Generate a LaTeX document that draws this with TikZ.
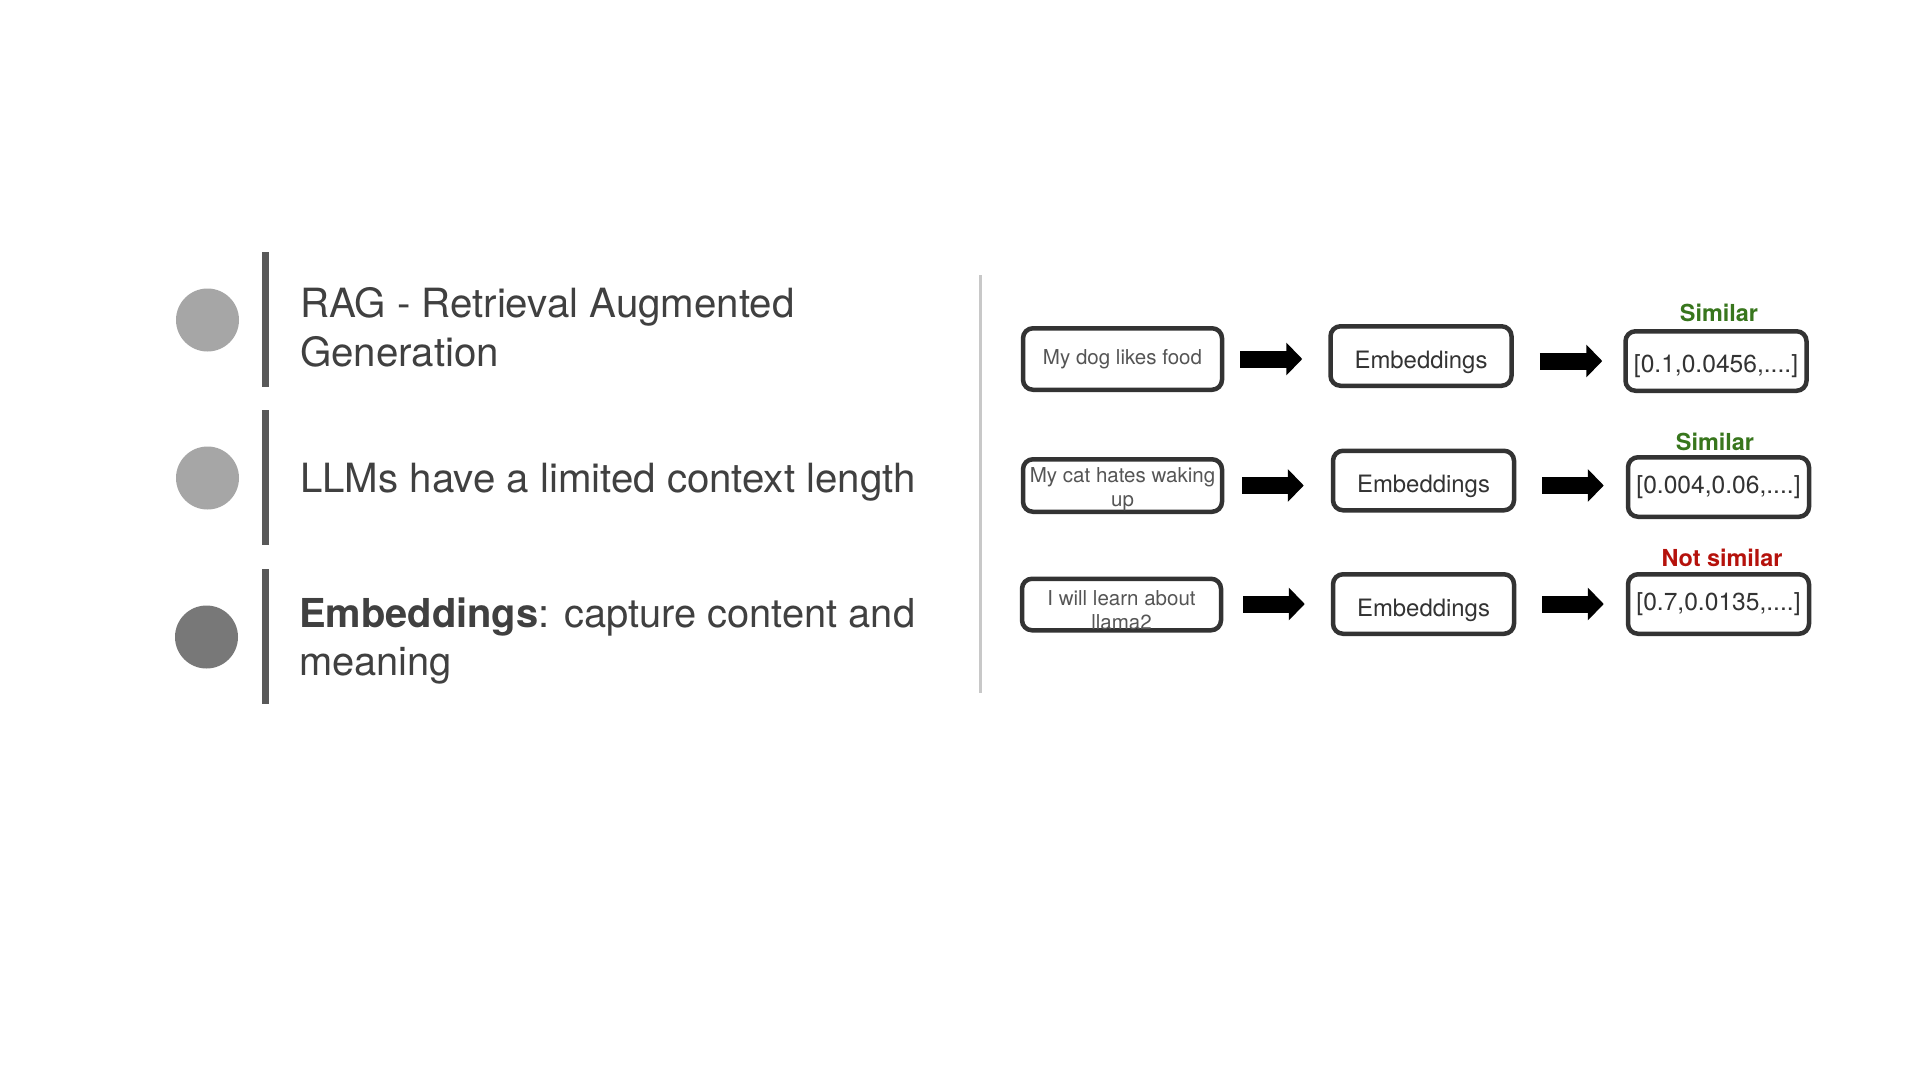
\documentclass[tikz,border=0pt]{standalone}
\usepackage{fontspec}
\setmainfont{TeX Gyre Heros}
\usetikzlibrary{arrows.meta}
\definecolor{txtgray}{HTML}{404040}
\definecolor{bargray}{HTML}{595959}
\definecolor{lightdot}{HTML}{A6A6A6}
\definecolor{darkdot}{HTML}{787878}
\definecolor{sepgray}{HTML}{C8C8C8}
\definecolor{boxgray}{HTML}{333333}
\definecolor{srcgray}{HTML}{555555}
\definecolor{embtext}{HTML}{333333}
\definecolor{simgreen}{HTML}{38761D}
\definecolor{notred}{HTML}{B5120C}
\tikzset{
  bullet/.style={circle, minimum size=63bp, inner sep=0pt},
  bar/.style={line width=7bp, draw=bargray},
  sepline/.style={line width=3bp, draw=sepgray},
  lefttext/.style={font=\fontsize{40.4}{49}\selectfont, text=txtgray, inner sep=0pt, align=left},
  boxbase/.style={draw=boxgray, line width=4.5bp, rounded corners=10bp},
  srcbox/.style={boxbase, minimum width=199bp, inner xsep=2bp, inner ysep=0pt, align=center,
    font=\fontsize{20.6}{24.5}\selectfont, text=srcgray},
  embbox/.style={boxbase, minimum width=181bp, minimum height=59.5bp,
    text height=24bp, text depth=0bp,
    font=\fontsize{24}{28}\selectfont, text=embtext},
  vecbox/.style={boxbase, minimum width=181bp, minimum height=59.5bp,
    font=\fontsize{24.7}{28}\selectfont, text=embtext},
  simlab/.style={font=\fontsize{23.5}{28}\selectfont\bfseries, text=simgreen, inner sep=0pt},
  notlab/.style={font=\fontsize{23.5}{28}\selectfont\bfseries, text=notred, inner sep=0pt},
  blockarrow/.style={line width=17bp, draw=black, -{Triangle[length=16bp 0 0, width=32bp 0 0]}}
}
\begin{document}
\begin{tikzpicture}[x=1bp,y=-1bp]
\path[use as bounding box, fill=white] (0,0) rectangle (1920,1080);

% left column
\node[bullet, fill=lightdot] (b1) at (207.5,320) {};
\node[bullet, fill=lightdot] (b2) at (207.5,478) {};
\node[bullet, fill=darkdot] (b3) at (206.5,637) {};
\coordinate (bar1a) at (265.5,252); \coordinate (bar1b) at (265.5,387);
\coordinate (bar2a) at (265.5,410); \coordinate (bar2b) at (265.5,545);
\coordinate (bar3a) at (265.5,569); \coordinate (bar3b) at (265.5,704);
\draw[bar] (bar1a) -- (bar1b);
\draw[bar] (bar2a) -- (bar2b);
\draw[bar] (bar3a) -- (bar3b);
\node[lefttext, anchor=west] (t1) at (300,327) {RAG - Retrieval Augmented\\Generation};
\node[lefttext, anchor=base west] (t2) at (300,492) {LLMs have a limited context length};
\node[lefttext, anchor=west, font=\fontsize{40}{49}\selectfont] (t3) at (299,641) {\textbf{Embeddings}: capture content and\\meaning};

% separator
\coordinate (sepa) at (980,275); \coordinate (sepb) at (980,693);
\draw[sepline] (sepa) -- (sepb);

% row 1
\node[srcbox, minimum height=61.5bp] (s1) at (1122.5,359) {My dog likes food};
\node[embbox] (e1) at (1421,356) {Embeddings};
\node[vecbox, text height=22bp, text depth=0bp] (v1) at (1716,361) {[0.1,0.0456,....]};
\node[simlab] (l1) at (1719,313) {Similar};
\draw[blockarrow, shorten <=16bp, shorten >=26bp] (s1.east) -- (s1.east -| e1.west);
\draw[blockarrow, shorten <=26bp, shorten >=21bp] (e1.east |- v1.west) -- (v1.west);

% row 2
\node[srcbox, minimum height=52.5bp] (s2) at (1122.5,485.5) {\rule{0pt}{22bp}My cat hates waking\\up};
\node[embbox] (e2) at (1423.5,480.5) {Embeddings};
\node[vecbox] (v2) at (1718.5,487) {[0.004,0.06,....]};
\node[simlab] (l2) at (1715,442) {Similar};
\draw[blockarrow, shorten <=18bp, shorten >=27bp] (s2.east) -- (s2.east -| e2.west);
\draw[blockarrow, shorten <=26bp, shorten >=22bp] (e2.east |- s2.east) -- (s2.east -| v2.west);

% row 3
\node[srcbox, minimum height=51.5bp] (s3) at (1121.5,604.5) {\rule{0pt}{26bp}I will learn about\\llama2};
\node[embbox] (e3) at (1423.5,604) {Embeddings};
\node[vecbox] (v3) at (1718.5,604) {[0.7,0.0135,....]};
\node[notlab] (l3) at (1722,558) {Not similar};
\draw[blockarrow, shorten <=20bp, shorten >=26bp] (s3.east |- e3.west) -- (e3.west);
\draw[blockarrow, shorten <=26bp, shorten >=22bp] (e3.east) -- (v3.west);
\end{tikzpicture}
\end{document}
